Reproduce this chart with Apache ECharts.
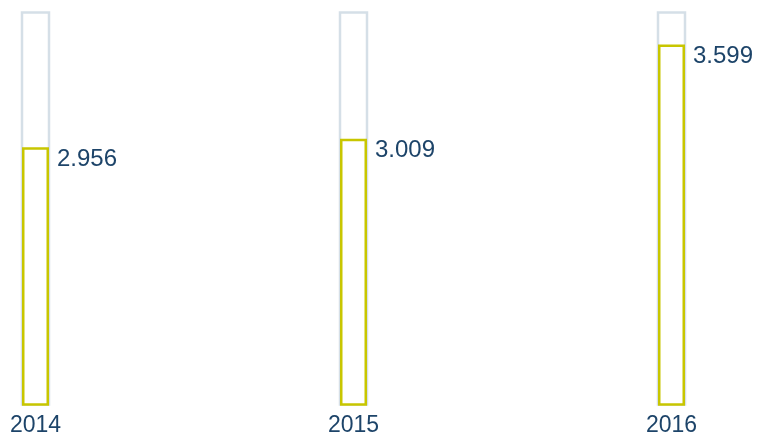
<!DOCTYPE html>
<html>
<head>
<meta charset="utf-8">
<script src="https://cdn.jsdelivr.net/npm/echarts@6/dist/echarts.min.js"></script>
<style>
html,body{margin:0;padding:0;background:#fff;}
#c{width:760px;height:435px;}
</style>
</head>
<body>
<div id="c"></div>
<script>
var categories = ['2014', '2015', '2016'];
var values = [2.956, 3.009, 3.599];
var valueLabels = ['2.956', '3.009', '3.599'];

var chart = echarts.init(document.getElementById('c'), null, {renderer: 'canvas'});
chart.setOption({
  animation: false,
  grid: {left: 35.5, right: 88.5, top: 12.5, bottom: 30.5, containLabel: false, outerBoundsMode: 'none'},
  xAxis: {
    type: 'category',
    data: categories,
    boundaryGap: false,
    axisLine: {show: false},
    axisTick: {show: false},
    axisLabel: {
      margin: 10,
      fontFamily: 'Liberation Sans',
      fontSize: 23,
      color: '#1d4469'
    }
  },
  yAxis: {
    type: 'value',
    min: 1.343,
    max: 3.8,
    show: false,
    splitLine: {show: false}
  },
  series: [{
    type: 'bar',
    data: values,
    barWidth: 27,
    showBackground: true,
    backgroundStyle: {
      color: '#ffffff',
      borderColor: '#d5dfe7',
      borderWidth: 2.5
    },
    itemStyle: {
      color: '#ffffff',
      borderColor: '#c8c600',
      borderWidth: 2.5
    },
    label: {
      show: true,
      position: [35, 0],
      align: 'left',
      verticalAlign: 'top',
      fontFamily: 'Liberation Sans',
      fontSize: 24,
      color: '#1d4469',
      formatter: function (p) { return valueLabels[p.dataIndex]; }
    }
  }]
});
</script>
</body>
</html>
